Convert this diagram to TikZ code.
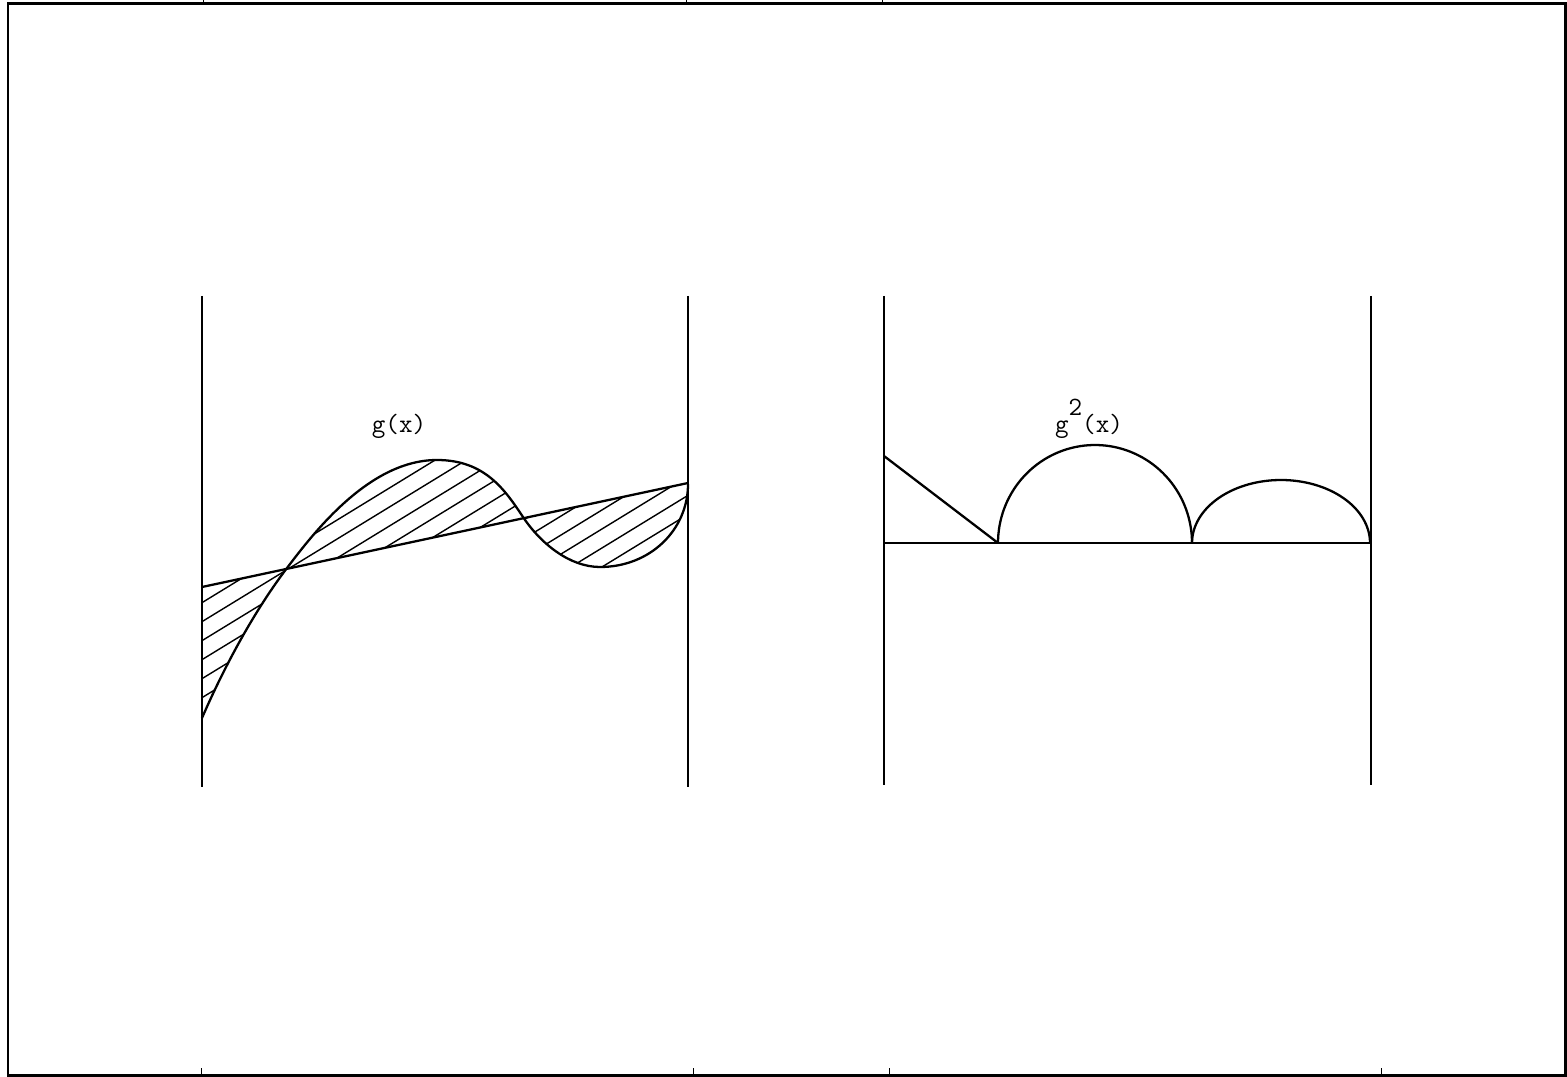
\documentclass[tikz,border=0pt]{standalone}
\usepackage{tikz}

% path of g(x) in the left plot
\newcommand{\gofxpath}{(202,718) .. controls (225,665) and (255,610) .. (287,568)
  .. controls (315,531) and (370,460) .. (437,460)
  .. controls (485,460) and (505,490) .. (523,517)
  .. controls (541,544) and (570,567) .. (600,567)
  .. controls (650,567) and (688,530) .. (688,484)}

\begin{document}
\begin{tikzpicture}[x=0.02cm, y=-0.02cm,
  frameline/.style={line width=1.7pt},
  wall/.style={line width=1.4pt},
  curve/.style={line width=1.3pt, line join=round},
  hatch/.style={line width=0.8pt},
  tick/.style={line width=0.5pt},
  lbl/.style={font=\fontsize{15}{17}\selectfont\ttfamily, anchor=base}]
  \useasboundingbox (0,0) rectangle (1567,1077);
  % Outer frame with small crop ticks
  \draw[frameline] (8,4) rectangle (1565,1075);
  \foreach \x in {203,686,882}
    \draw[tick] (\x,4) -- (\x,0);
  \foreach \x in {201,693,889,1381}
    \draw[tick] (\x,1075) -- (\x,1068);
  % Left plot: g(x) and its chord
  \draw[wall] (202,296) -- (202,787);
  \draw[wall] (688,296) -- (688,787);
  % Hatched area between curve and chord
  \begin{scope}
    \clip \gofxpath -- (688,483) -- (202,587) -- cycle;
    \foreach \c in {596,615,...,920}
      \draw[hatch] (190,{\c-24}) -- (700,{\c-336});
  \end{scope}
  \draw[curve] \gofxpath;
  \draw[curve] (202,587) -- (688,483);
  \node[lbl] (gx) at (399,432) {g(x)};
  % Right plot: g^2(x)
  \draw[wall] (884,296) -- (884,785);
  \draw[wall] (1371,296) -- (1371,785);
  \draw[curve] (884,543) -- (1371,543);
  \draw[curve] (884,456) -- (998,543);
  \draw[curve] plot[domain=180:360, samples=72] ({1095+97*cos(\x)},{543+98*sin(\x)});
  \draw[curve] plot[domain=180:360, samples=72] ({1281+89*cos(\x)},{543+63*sin(\x)});
  \node[lbl] (gsq) at (1089,432) {g\raisebox{9.5pt}{2}(x)};
\end{tikzpicture}
\end{document}
